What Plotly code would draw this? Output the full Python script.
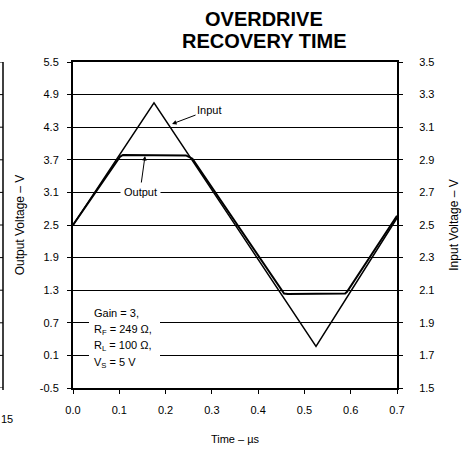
import plotly.graph_objects as go

# ── Data ─────────────────────────────────────────────────────────────
# Input (right axis, V) - triangle drive
t_input = [0.000, 0.175, 0.525, 0.700]
v_input = [2.500, 3.250, 1.755, 2.543]

# Output (left axis, V) - clipped at the rails, slight recovery lag
t_output = [0.000, 0.102, 0.108, 0.244, 0.258, 0.456, 0.464, 0.588, 0.592, 0.700]
v_output = [2.50, 3.76, 3.79, 3.78, 3.72, 1.24, 1.23, 1.24, 1.27, 2.67]

x_ticks = [0.0, 0.1, 0.2, 0.3, 0.4, 0.5, 0.6, 0.7]
x_labels = ["0.0", "0.1", "0.2", "0.3", "0.4", "0.5", "0.6", "0.7"]
y_ticks = [-0.5, 0.1, 0.7, 1.3, 1.9, 2.5, 3.1, 3.7, 4.3, 4.9, 5.5]
y_labels = ["-0.5", "0.1", "0.7", "1.3", "1.9", "2.5", "3.1", "3.7", "4.3", "4.9", "5.5"]
y2_ticks = [1.5, 1.7, 1.9, 2.1, 2.3, 2.5, 2.7, 2.9, 3.1, 3.3, 3.5]
y2_labels = ["1.5", "1.7", "1.9", "2.1", "2.3", "2.5", "2.7", "2.9", "3.1", "3.3", "3.5"]

conditions = ["Gain = 3,", "R<sub>F</sub> = 249 Ω,", "R<sub>L</sub> = 100 Ω,",
              "V<sub>S</sub> = 5 V"]

# ── Layout constants (pixels) ────────────────────────────────────────
W, H = 469, 452
ML, MR, MT, MB = 73, 72, 62, 64
PW, PH = W - ML - MR, H - MT - MB
FONT = "Arial, Liberation Sans, Helvetica, sans-serif"


def px(x):
    """pixel x -> paper x"""
    return (x - ML) / PW


def py(y):
    """pixel y -> paper y"""
    return (H - MB - y) / PH


fig = go.Figure()

fig.add_trace(go.Scatter(
    x=t_output, y=v_output, mode="lines", name="Output",
    line=dict(color="black", width=2), yaxis="y",
))
fig.add_trace(go.Scatter(
    x=t_input, y=v_input, mode="lines", name="Input",
    line=dict(color="black", width=1.5), yaxis="y2",
))

axis_common = dict(
    ticks="outside", ticklen=4, tickwidth=1, tickcolor="black",
    showline=True, linewidth=2, linecolor="black",
    zeroline=False, automargin=False,
    tickfont=dict(size=11, color="black", family=FONT),
)

fig.update_layout(
    width=W, height=H,
    margin=dict(l=ML, r=MR, t=MT, b=MB),
    paper_bgcolor="white", plot_bgcolor="white",
    font=dict(family=FONT, size=11, color="black"),
    showlegend=False,
    xaxis=dict(
        range=[0, 0.7], tickvals=x_ticks, ticktext=x_labels,
        showgrid=False, mirror=True, ticklabelstandoff=7,
        title=dict(text="Time – µs", font=dict(size=11), standoff=20),
        **axis_common,
    ),
    yaxis=dict(
        range=[-0.5, 5.5], tickvals=y_ticks, ticktext=y_labels,
        showgrid=True, gridcolor="black", gridwidth=1, mirror=True,
        ticklabelstandoff=6,
        title=dict(text="Output Voltage – V", font=dict(size=12), standoff=13),
        **axis_common,
    ),
    yaxis2=dict(
        range=[1.5, 3.5], tickvals=y2_ticks, ticktext=y2_labels,
        overlaying="y", side="right", showgrid=False,
        ticklabelstandoff=14,
        title=dict(text="Input Voltage – V", font=dict(size=12), standoff=16),
        **axis_common,
    ),
)

# title
fig.add_annotation(
    x=px(264), y=py(19), xref="paper", yref="paper",
    text="<b>OVERDRIVE</b>", showarrow=False,
    font=dict(size=20, family=FONT), xanchor="center", yanchor="middle",
)
fig.add_annotation(
    x=px(264), y=py(41), xref="paper", yref="paper",
    text="<b>RECOVERY TIME</b>", showarrow=False,
    font=dict(size=20, family=FONT), xanchor="center", yanchor="middle",
)

# callouts
fig.add_annotation(
    x=0.214, y=4.36, xref="x", yref="y", text="Input",
    showarrow=True, ax=37, ay=-14, arrowhead=2, arrowsize=0.9,
    arrowwidth=1, arrowcolor="black", font=dict(size=11),
)
fig.add_annotation(
    x=0.1556, y=3.77, xref="x", yref="y", text="Output",
    showarrow=True, ax=-5, ay=36, arrowhead=2, arrowsize=0.9,
    arrowwidth=1, arrowcolor="black", font=dict(size=11),
    bgcolor="white", borderpad=3,
)

# conditions box: white patch over the grid, then one line per row
fig.add_shape(type="rect", xref="paper", yref="paper",
              x0=px(89), x1=px(160), y0=py(372), y1=py(304),
              fillcolor="white", line=dict(width=0), layer="above")
for i, line in enumerate(conditions):
    fig.add_annotation(
        x=px(92), y=py(313 + i * 16.7), xref="paper", yref="paper",
        text=line, showarrow=False, xanchor="left", yanchor="middle",
        font=dict(size=11),
    )

# fragment of neighbouring chart at left edge
fig.add_shape(type="line", xref="paper", yref="paper",
              x0=px(3), x1=px(3), y0=py(390), y1=py(62),
              line=dict(color="black", width=1.5))
for yt in y_ticks:
    fig.add_shape(type="line", xref="paper", yref="y",
                  x0=px(0), x1=px(3), y0=yt, y1=yt,
                  line=dict(color="black", width=1))
fig.add_annotation(x=px(-1), y=py(419), xref="paper", yref="paper",
                   text="15", showarrow=False, xanchor="left",
                   yanchor="middle", font=dict(size=11))

# drop the default page margin so the figure sits at the window origin
fig.write_html("out.html", config={"displayModeBar": False},
               post_script="document.body.style.margin='0';")
